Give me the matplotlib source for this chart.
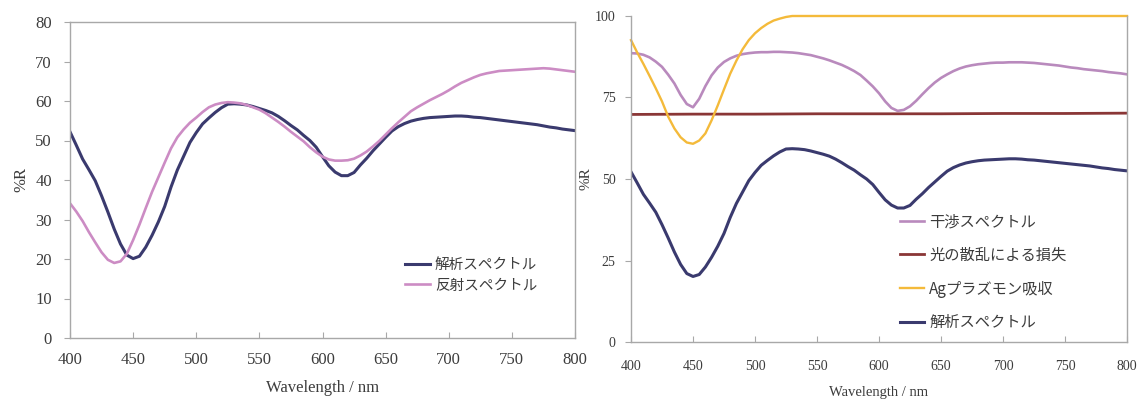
import numpy as np
import matplotlib
matplotlib.use("Agg")
import matplotlib.pyplot as plt

# Wavelength grid (nm)
wavelength = list(range(400, 805, 5))

# Analysed spectrum (%R)
analysis = [
    52.2, 48.8, 45.3, 42.6, 39.8, 36.0, 31.9, 27.6, 23.8, 21.0,
    20.1, 20.7, 23.0, 26.0, 29.4, 33.3, 38.2, 42.5, 46.0, 49.5,
    52.0, 54.2, 55.7, 57.1, 58.3, 59.2, 59.3, 59.2, 59.0, 58.6,
    58.1, 57.6, 57.0, 56.1, 55.0, 53.8, 52.7, 51.3, 50.0, 48.3,
    45.9, 43.6, 42.0, 41.1, 41.1, 41.9, 43.8, 45.5, 47.4, 49.1,
    50.8, 52.4, 53.5, 54.3, 54.9, 55.3, 55.6, 55.8, 55.9, 56.0,
    56.1, 56.2, 56.2, 56.1, 55.9, 55.8, 55.6, 55.4, 55.2, 55.0,
    54.8, 54.6, 54.4, 54.2, 54.0, 53.7, 53.4, 53.2, 52.9, 52.7,
    52.5,
]

# Measured reflection spectrum (%R)
reflection = [
    34.1, 32.0, 29.6, 26.8, 24.2, 21.7, 19.8, 19.0, 19.4, 21.3,
    24.8, 28.7, 32.9, 37.0, 40.7, 44.4, 48.0, 50.8, 52.8, 54.5,
    55.8, 57.2, 58.4, 59.1, 59.5, 59.7, 59.6, 59.4, 59.0, 58.4,
    57.8, 56.9, 55.8, 54.7, 53.5, 52.2, 51.0, 49.8, 48.3, 47.0,
    45.9, 45.2, 44.9, 44.9, 45.0, 45.4, 46.2, 47.2, 48.5, 49.9,
    51.5, 53.1, 54.6, 56.0, 57.4, 58.4, 59.3, 60.2, 61.0, 61.8,
    62.7, 63.7, 64.6, 65.3, 66.0, 66.6, 67.0, 67.3, 67.6, 67.7,
    67.8, 67.9, 68.0, 68.1, 68.2, 68.3, 68.2, 68.0, 67.8, 67.6,
    67.4,
]

# Interference spectrum (%R)
interference = [
    88.6, 88.5, 88.1, 87.3, 86.0, 84.4, 82.0, 79.3, 75.8, 73.0,
    72.0, 74.6, 78.5, 81.8, 84.2, 85.9, 87.0, 87.8, 88.3, 88.6,
    88.8, 88.9, 88.9, 89.0, 89.0, 88.9, 88.8, 88.6, 88.3, 88.0,
    87.5, 87.0, 86.4, 85.7, 85.0, 84.1, 83.1, 81.9, 80.2, 78.4,
    76.3, 73.8, 71.8, 70.9, 71.2, 72.3, 74.0, 76.0, 77.9, 79.6,
    81.0, 82.1, 83.1, 83.9, 84.5, 84.9, 85.2, 85.4, 85.6, 85.7,
    85.7, 85.8, 85.8, 85.8, 85.7, 85.6, 85.4, 85.2, 85.0, 84.8,
    84.5, 84.2, 84.0, 83.7, 83.5, 83.3, 83.1, 82.8, 82.6, 82.4,
    82.1,
]

# Loss from light scattering (%R)
scatter_wl = [400, 450, 500, 550, 600, 650, 700, 750, 800]
scatter_loss = [69.8, 69.9, 69.9, 70.0, 70.0, 70.0, 70.1, 70.1, 70.2]

# Ag plasmon absorption (%R)
ag_wl = list(range(400, 535, 5)) + [800]
ag_plasmon = [
    92.6, 88.8, 85.3, 81.6, 77.8, 73.8, 69.1, 65.5, 62.8, 61.2,
    60.8, 61.8, 64.0, 68.0, 72.6, 77.5, 82.3, 86.3, 89.8, 92.6,
    94.7, 96.3, 97.6, 98.6, 99.2, 99.7, 100.0, 100.0,
]

left_yticks = [0, 10, 20, 30, 40, 50, 60, 70, 80]
right_yticks = [0, 25, 50, 75, 100]
xticks = [400, 450, 500, 550, 600, 650, 700, 750, 800]

NAVY = "#3a3a6e"
PINK_L = "#cc8cc4"
PINK_R = "#b98abd"
BROWN = "#8a3636"
YELLOW = "#f4ba3a"
SPINE = "#a8a8a8"
TXT = "#3c3c3c"

SERIF = ["Liberation Serif", "DejaVu Serif"]
JP = ["Noto Sans CJK JP", "DejaVu Sans"]

W, H = 1139, 401
fig = plt.figure(figsize=(W / 100, H / 100), dpi=100)
fig.patch.set_facecolor("white")


def px_axes(x0, y0, x1, y1):
    return fig.add_axes([x0 / W, 1 - y1 / H, (x1 - x0) / W, (y1 - y0) / H])


def style(ax, fs, ypad, xpad):
    for s in ax.spines.values():
        s.set_color(SPINE)
        s.set_linewidth(1.0)
    ax.tick_params(axis="y", direction="out", length=4, width=0.8,
                   color=SPINE, pad=ypad, labelsize=fs, labelcolor=TXT)
    ax.tick_params(axis="x", direction="in", length=4, width=0.8,
                   color=SPINE, pad=xpad, labelsize=fs, labelcolor=TXT)
    for lab in ax.get_xticklabels() + ax.get_yticklabels():
        lab.set_fontfamily(SERIF)


# ---- left panel: analysed vs reflection ----
ax1 = px_axes(70, 22, 575, 338)
ax1.plot(wavelength, analysis, color=NAVY, lw=2.2, label="解析スペクトル")
ax1.plot(wavelength, reflection, color=PINK_L, lw=1.9, label="反射スペクトル")
ax1.set_xlim(400, 800)
ax1.set_ylim(0, 80)
ax1.set_xticks(xticks)
ax1.set_yticks(left_yticks)
style(ax1, 12, 9, 10)
ax1.set_xlabel("Wavelength / nm", fontfamily=SERIF, fontsize=12,
               color=TXT, labelpad=9)
ax1.set_ylabel("%R", fontfamily=SERIF, fontsize=12, color=TXT, labelpad=4)
leg1 = ax1.legend(loc="upper left", bbox_to_anchor=(405 / W, 1 - 258 / H),
                  bbox_transform=fig.transFigure, frameon=False,
                  prop={"family": JP, "size": 10.5}, handlelength=1.7,
                  handletextpad=0.35, labelspacing=0.45, borderpad=0,
                  borderaxespad=0)
for t in leg1.get_texts():
    t.set_color(TXT)

# ---- right panel: decomposition ----
ax2 = px_axes(631, 16, 1127, 342)
ax2.plot(wavelength, interference, color=PINK_R, lw=1.9, label="干渉スペクトル")
ax2.plot(scatter_wl, scatter_loss, color=BROWN, lw=2.0, label="光の散乱による損失")
ax2.plot(ag_wl, ag_plasmon, color=YELLOW, lw=1.7, label="Agプラズモン吸収",
         clip_on=False)
ax2.plot(wavelength, analysis, color=NAVY, lw=2.2, label="解析スペクトル")
ax2.set_xlim(400, 800)
ax2.set_ylim(0, 100)
ax2.set_xticks(xticks)
ax2.set_yticks(right_yticks)
style(ax2, 10, 7, 13)
ax2.spines["top"].set_visible(False)
ax2.set_xlabel("Wavelength / nm", fontfamily=SERIF, fontsize=10.5,
               color=TXT, labelpad=9)
ax2.set_ylabel("%R", fontfamily=SERIF, fontsize=11, color=TXT, labelpad=2)
leg2 = ax2.legend(loc="upper left", bbox_to_anchor=(900 / W, 1 - 213 / H),
                  bbox_transform=fig.transFigure, frameon=False,
                  prop={"family": JP, "size": 11}, handlelength=1.6,
                  handletextpad=0.3, labelspacing=1.1, borderpad=0,
                  borderaxespad=0)
for t in leg2.get_texts():
    t.set_color(TXT)

fig.savefig("out.png", dpi=100, facecolor="white")
